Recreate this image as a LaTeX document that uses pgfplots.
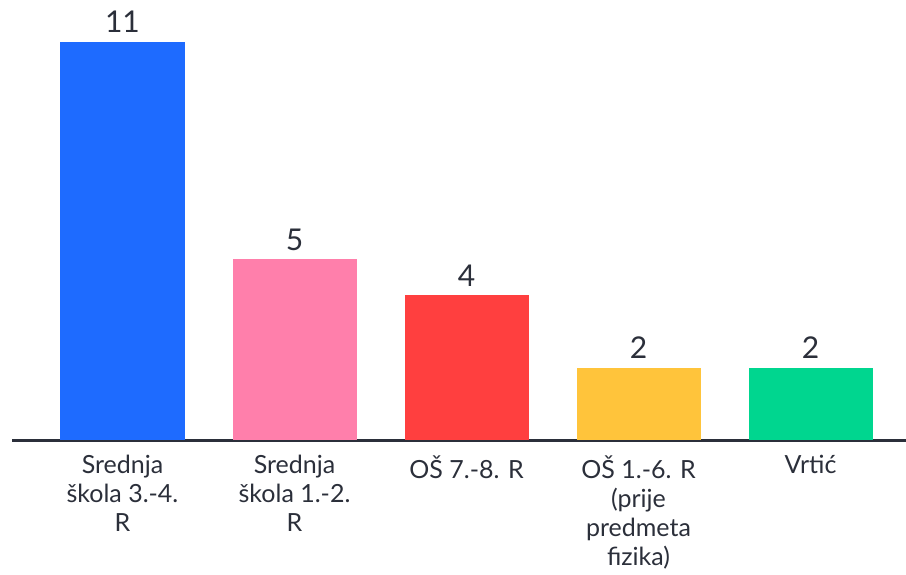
\documentclass[border=0pt]{standalone}
\usepackage{pgfplots}
\pgfplotsset{compat=1.18}
\usepackage{fontspec}
\setmainfont{Lato}
\definecolor{txt}{HTML}{2B2F3A}
\definecolor{cblue}{HTML}{1E6BFF}
\definecolor{cpink}{HTML}{FF7FAB}
\definecolor{cred}{HTML}{FF3F3F}
\definecolor{cyellow}{HTML}{FFC43B}
\definecolor{cgreen}{HTML}{00D68F}
\begin{document}
\begin{tikzpicture}
\path[use as bounding box] (-12pt,-134pt) rectangle (894pt,440pt);
\begin{axis}[
  scale only axis,
  width=894pt, height=440pt,
  xmin=-0.6424, xmax=4.555,
  ymin=0, ymax=12.16,
  axis y line=none,
  axis x line*=bottom,
  x axis line style={draw=txt, line width=3pt, -},
  xtick={0,1,2,3,4},
  major tick length=0pt,
  xticklabels={Srednja\\škola 3.-4.\\R, Srednja\\škola 1.-2.\\R, OŠ 7.-8. R, OŠ 1.-6. R\\(prije\\predmeta\\fizika), Vrtić},
  xticklabel style={align=center, font=\fontsize{25}{29}\selectfont, text=txt, anchor=north, yshift=-12pt},
  /pgf/number format/assume math mode=true,
  ybar, bar width=0.721, bar shift=0pt,
  nodes near coords,
  every node near coord/.append style={font=\fontsize{30}{34}\selectfont, text=txt, anchor=base, yshift=9pt, inner sep=0pt},
  clip=false,
]
\addplot[fill=cblue, draw=none] coordinates {(0,11)};
\addplot[fill=cpink, draw=none] coordinates {(1,5)};
\addplot[fill=cred, draw=none] coordinates {(2,4)};
\addplot[fill=cyellow, draw=none] coordinates {(3,2)};
\addplot[fill=cgreen, draw=none] coordinates {(4,2)};
\end{axis}
\end{tikzpicture}
\end{document}
